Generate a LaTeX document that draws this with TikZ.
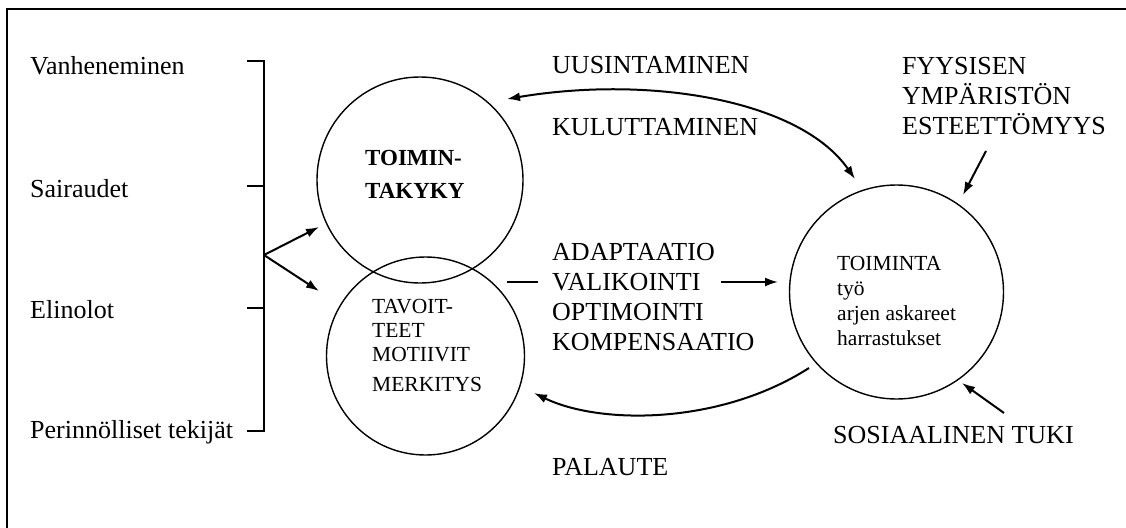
\documentclass[tikz,border=0pt]{standalone}
\usepackage{fontspec}
\setmainfont{Liberation Serif}
\usetikzlibrary{arrows.meta}
\begin{document}
\begin{tikzpicture}[x=1pt,y=-1pt,
  ring/.style={draw,circle,line width=1.4pt,inner sep=0pt},
  lbl/.style={anchor=west,inner sep=0pt,font=\fontsize{26}{30}\selectfont,align=left},
  arr/.style={line width=2pt,-{Latex[length=13pt,width=9pt]}},
  brk/.style={line width=1.5pt}]
\useasboundingbox (0,0) rectangle (1126,527);
% frame (cropped)
\draw[line width=1.8pt] (7,540) -- (7,9) -- (1140,9);
% left factors
\node[lbl] (van) at (30,66) {Vanheneminen};
\node[lbl] (sai) at (30,189) {Sairaudet};
\node[lbl] (eli) at (30,310) {Elinolot};
\node[lbl] (per) at (30,432) {Perinnölliset tekijät};
% bracket
\coordinate (b1) at (264,61);
\coordinate (b4) at (264,431);
\coordinate (bm) at (264,255);
\draw[brk] (247,61) -- (b1) -- (b4) -- (247,431);
\draw[brk] (247,186) -- (264,186);
\draw[brk] (247,308) -- (264,308);
% circles
\node[ring,minimum size=206pt] (kyky) at (420,180) {};
\node[ring,minimum size=198pt] (tav) at (425.5,356) {};
\node[ring,minimum size=214pt] (toim) at (896.5,292) {};
% circle texts
\node[anchor=west,inner sep=0pt,align=left,font=\fontsize{23}{33}\selectfont\bfseries] (kykyt) at (365,174) {TOIMIN-\\TAKYKY};
\node[anchor=west,inner sep=0pt,align=left,font=\fontsize{21.5}{24}\selectfont] (tavt) at (372,345) {TAVOIT-\\TEET\\MOTIIVIT\\[6pt]MERKITYS};
\node[anchor=west,inner sep=0pt,align=left,font=\fontsize{21.5}{25.3}\selectfont] (toimt) at (837,301) {TOIMINTA\\työ\\arjen askareet\\harrastukset};
% arrows from bracket
\coordinate (a1) at (319,227);
\coordinate (a2) at (319,291);
\draw[arr] (bm) -- (a1);
\draw[arr] (bm) -- (a2);
% labels
\node[lbl] (uus) at (552,65) {UUSINTAMINEN};
\node[lbl] (kul) at (552,127) {KULUTTAMINEN};
\node[lbl] (ada) at (552,297) {ADAPTAATIO\\VALIKOINTI\\OPTIMOINTI\\KOMPENSAATIO};
\node[lbl] (pal) at (552,467) {PALAUTE};
\node[lbl] (fyy) at (902,96) {FYYSISEN\\YMPÄRISTÖN\\ESTEETTÖMYYS};
\node[lbl] (sos) at (833,435) {SOSIAALINEN TUKI};
% top double curve
\coordinate (t1) at (507,99);
\coordinate (t2) at (855,179);
\draw[line width=2pt,{Latex[length=13pt,width=9pt]}-{Latex[length=13pt,width=9pt]}] (t1) .. controls (650,75) and (800,100) .. (t2);
% middle arrow interrupted by text
\coordinate (m1) at (507,282);
\coordinate (m2) at (538,282);
\coordinate (m3) at (721,282);
\coordinate (m4) at (778,282);
\draw[line width=1.8pt] (m1) -- (m2);
\draw[arr] (m3) -- (m4);
% bottom feedback curve
\coordinate (p1) at (809,368);
\coordinate (p2) at (534,393);
\draw[arr] (p1) .. controls (720,425) and (600,425) .. (p2);
% environment arrows
\coordinate (f1) at (986,151);
\coordinate (f2) at (963,195);
\draw[arr] (f1) -- (f2);
\coordinate (s1) at (1004,413);
\coordinate (s2) at (962,383);
\draw[arr] (s1) -- (s2);
\end{tikzpicture}
\end{document}
